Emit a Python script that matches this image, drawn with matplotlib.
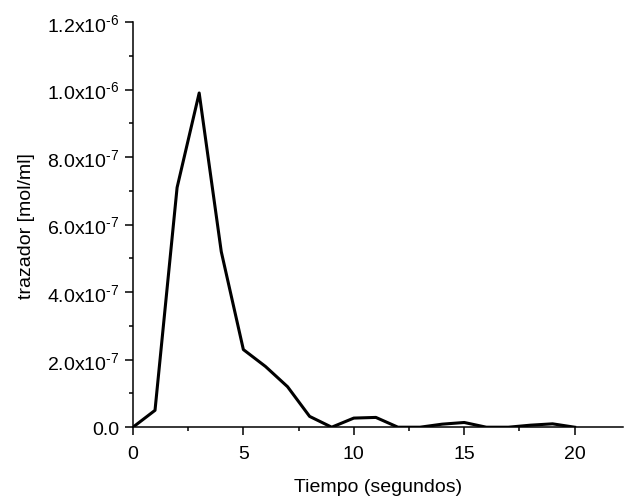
import matplotlib
matplotlib.use("Agg")
import matplotlib.pyplot as plt
from matplotlib.ticker import FuncFormatter, MultipleLocator

plt.rcParams["font.family"] = ["Liberation Sans", "DejaVu Sans"]
plt.rcParams["mathtext.fontset"] = "custom"
plt.rcParams["mathtext.rm"] = "Liberation Sans"

tiempo = list(range(0, 21))
trazador = [0, 5.0e-8, 7.1e-7, 9.9e-7, 5.2e-7, 2.3e-7, 1.8e-7, 1.2e-7, 3.2e-8, 0,
            2.7e-8, 2.9e-8, 0, 0, 9e-9, 1.4e-8, 0, 0, 6e-9, 1.0e-8, 0]


def sci_label(v, pos):
    if abs(v) < 1e-12:
        return "0.0"
    exp = int(f"{v:e}".split("e")[1])
    mant = v / 10 ** exp
    return r"$\mathregular{%.1fx10^{\text{-}%d}}$" % (mant, -exp)


fig = plt.figure(figsize=(6.27, 5.02), dpi=100)
ax = fig.add_axes([0.212, 0.147, 0.782, 0.807])

ax.plot(tiempo, trazador, color="black", linewidth=2.2)

ax.set_xlim(0, 22.2)
ax.set_ylim(0, 1.2e-6)
ax.xaxis.set_major_locator(MultipleLocator(5))
ax.xaxis.set_minor_locator(MultipleLocator(2.5))
ax.yaxis.set_major_locator(MultipleLocator(2e-7))
ax.yaxis.set_minor_locator(MultipleLocator(1e-7))
ax.yaxis.set_major_formatter(FuncFormatter(sci_label))

ax.spines["top"].set_visible(False)
ax.spines["right"].set_visible(False)
for s in ("left", "bottom"):
    ax.spines[s].set_linewidth(1.1)
ax.tick_params(which="major", direction="out", length=5.5, width=1.1,
               labelsize=14, pad=4)
ax.tick_params(axis="x", which="major", pad=7)
ax.tick_params(which="minor", direction="out", length=3, width=1.1)

ax.set_xlabel("Tiempo (segundos)", fontsize=14, labelpad=12)
ax.set_ylabel("trazador [mol/ml]", fontsize=14, labelpad=9)

fig.savefig("out.png", dpi=100)
